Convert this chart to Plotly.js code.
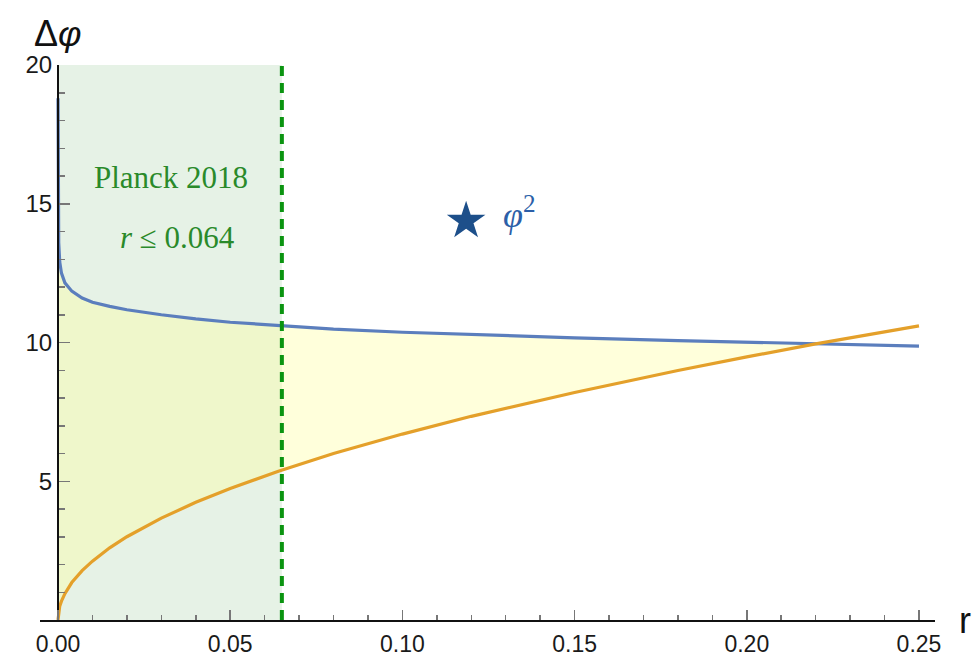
<!DOCTYPE html>
<html>
<head>
<meta charset="utf-8">
<script src="https://cdn.plot.ly/plotly-3.0.1.min.js"></script>
<style>html,body{margin:0;padding:0;background:#fff;}#chart{width:977px;height:657px;}</style>
</head>
<body>
<div id="chart"></div>
<script>
// Upper curve (phi^2 style bound)
const blueR    = [0, 0.00005, 0.0002, 0.0005, 0.001, 0.002, 0.004, 0.007, 0.01, 0.015, 0.02, 0.03, 0.04, 0.05, 0.064, 0.08, 0.10, 0.12, 0.15, 0.18, 0.20, 0.22, 0.25];
const blueDphi = [18.8, 15.2, 13.6, 12.9, 12.5, 12.15, 11.85, 11.6, 11.45, 11.3, 11.18, 11.0, 10.85, 10.73, 10.6, 10.48, 10.37, 10.28, 10.17, 10.07, 10.01, 9.95, 9.87];
// Lower curve (Lyth-type bound)
const orangeR    = [0, 0.0005, 0.001, 0.002, 0.004, 0.007, 0.01, 0.015, 0.02, 0.03, 0.04, 0.05, 0.064, 0.08, 0.10, 0.12, 0.15, 0.18, 0.20, 0.22, 0.25];
const orangeDphi = [0, 0.5, 0.68, 0.95, 1.35, 1.78, 2.12, 2.6, 3.0, 3.67, 4.24, 4.74, 5.36, 6.0, 6.7, 7.34, 8.2, 8.99, 9.48, 9.95, 10.6];
const crossR = 0.22;
const planckR = 0.065;
const starPoint = {r: [0.1185], dphi: [14.38]};
const xTickVals = [0, 0.05, 0.10, 0.15, 0.20, 0.25];
const yTickVals = [0, 5, 10, 15, 20];
const yTickText = ['', '5', '10', '15', '20'];

const blueC = '#5b7ebd', orangeC = '#e4a02a', greenC = '#0a9410';

const oFillR = [], oFillY = [], bFillR = [], bFillY = [];
orangeR.forEach((r, i) => { if (r <= crossR) { oFillR.push(r); oFillY.push(orangeDphi[i]); } });
blueR.forEach((r, i) => { if (r <= crossR) { bFillR.push(r); bFillY.push(blueDphi[i]); } });

const traces = [
  {x: oFillR, y: oFillY, mode: 'lines', line: {width: 0, color: 'rgba(0,0,0,0)'}, hoverinfo: 'skip', showlegend: false},
  {x: bFillR, y: bFillY, mode: 'lines', line: {width: 0, color: 'rgba(0,0,0,0)'}, fill: 'tonexty', fillcolor: 'rgba(255,255,160,0.38)', hoverinfo: 'skip', showlegend: false},
  {x: blueR, y: blueDphi, mode: 'lines', line: {color: blueC, width: 3.2}, showlegend: false},
  {x: orangeR, y: orangeDphi, mode: 'lines', line: {color: orangeC, width: 3.2}, showlegend: false},
  {x: starPoint.r, y: starPoint.dphi, mode: 'markers', marker: {symbol: 'star', size: 29, color: '#1d4f8a'}, showlegend: false}
];

const xmin = -0.00523, xmax = 0.25465;
const tickFont = {family: 'Liberation Sans, Arial, sans-serif', size: 23, color: '#1a1a1a'};

const layout = {
  width: 977, height: 657,
  margin: {l: 40, r: 42, t: 65, b: 37},
  paper_bgcolor: '#fff', plot_bgcolor: 'rgba(0,0,0,0)',
  showlegend: false,
  xaxis: {
    range: [xmin, xmax], showgrid: false, zeroline: false,
    showline: true, linecolor: '#111', linewidth: 2,
    tickmode: 'array', tickvals: xTickVals, tickformat: '.2f',
    ticks: 'inside', ticklen: 10, tickwidth: 1.5, tickcolor: '#777',
    minor: {tickmode: 'linear', tick0: 0, dtick: 0.01, ticks: 'inside', ticklen: 5, tickwidth: 1.5, tickcolor: '#777', showgrid: false},
    tickfont: tickFont, ticklabelstandoff: 2
  },
  yaxis: {
    range: [0, 20], showgrid: false, zeroline: false,
    anchor: 'free', position: (0 - xmin) / (xmax - xmin),
    showline: true, linecolor: '#111', linewidth: 2,
    tickmode: 'array', tickvals: yTickVals, ticktext: yTickText,
    ticks: 'inside', ticklen: 11, tickwidth: 1.5, tickcolor: '#777',
    minor: {tickmode: 'linear', tick0: 0, dtick: 1, ticks: 'inside', ticklen: 6, tickwidth: 1.5, tickcolor: '#777', showgrid: false},
    tickfont: {family: 'Liberation Sans, Arial, sans-serif', size: 24, color: '#1a1a1a'}
  },
  shapes: [
    {type: 'rect', xref: 'x', yref: 'y', x0: 0, x1: planckR, y0: 0, y1: 20, fillcolor: '#e6f2e6', line: {width: 0}, layer: 'below'},
    {type: 'line', xref: 'x', yref: 'y', x0: planckR, x1: planckR, y0: 0, y1: 20, line: {color: greenC, width: 4, dash: '10px,7px'}, layer: 'above'}
  ],
  annotations: [
    {xref: 'paper', yref: 'paper', x: 0.0201, y: 1.057, text: 'Δ<i>φ</i>', showarrow: false, font: {family: 'Liberation Sans, Arial, sans-serif', size: 36, color: '#111'}, xanchor: 'center', yanchor: 'middle'},
    {xref: 'paper', yref: 'paper', x: 1.0335, y: 0.0, text: 'r', showarrow: false, font: {family: 'Liberation Sans, Arial, sans-serif', size: 36, color: '#111'}, xanchor: 'center', yanchor: 'middle'},
    {xref: 'x', yref: 'y', x: 0.0328, y: 15.96, text: 'Planck 2018', showarrow: false, font: {family: 'Liberation Serif, Times New Roman, serif', size: 31, color: '#2a8a2a'}, xanchor: 'center', yanchor: 'middle'},
    {xref: 'x', yref: 'y', x: 0.0346, y: 13.8, text: '<i>r</i> ≤ 0.064', showarrow: false, font: {family: 'Liberation Serif, Times New Roman, serif', size: 31, color: '#2a8a2a'}, xanchor: 'center', yanchor: 'middle'},
    {xref: 'x', yref: 'y', x: 0.1341, y: 14.7, text: '<i>φ</i><sup>2</sup>', showarrow: false, font: {family: 'Liberation Serif, Times New Roman, serif', size: 36, color: '#2c5fa8'}, xanchor: 'center', yanchor: 'middle'}
  ]
};

Plotly.newPlot('chart', traces, layout, {displayModeBar: false, staticPlot: true});
</script>
</body>
</html>
